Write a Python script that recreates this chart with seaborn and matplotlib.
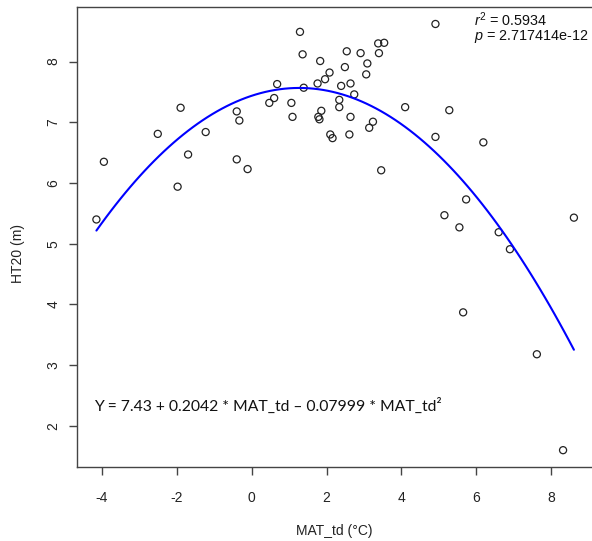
import numpy as np
import matplotlib
matplotlib.use("Agg")
import matplotlib.pyplot as plt
import seaborn as sns

# MAT_td (°C) vs HT20 (m)
mat_td = [-3.95, -4.15, -2.51, -1.90, -1.98, -1.70, -1.23, -0.40, -0.33, -0.40,
          -0.11, 0.47, 0.60, 0.68, 1.29, 1.36, 1.39, 1.06, 1.09, 1.83,
          1.76, 1.96, 2.08, 1.86, 1.78, 1.81, 2.10, 2.16, 2.54, 2.49,
          2.39, 2.64, 2.34, 2.34, 2.74, 2.64, 2.61, 2.91, 3.09, 3.06,
          3.38, 3.54, 3.40, 3.24, 3.14, 4.10, 3.46, 4.91, 5.28, 4.91,
          6.19, 5.73, 5.15, 5.55, 6.60, 6.90, 8.61, 5.65, 7.62, 8.32]
ht20 = [6.35, 5.40, 6.81, 7.24, 5.94, 6.47, 6.84, 7.18, 7.03, 6.39,
        6.23, 7.32, 7.40, 7.63, 8.49, 8.12, 7.57, 7.32, 7.09, 8.01,
        7.64, 7.71, 7.82, 7.19, 7.09, 7.05, 6.80, 6.74, 8.17, 7.91,
        7.60, 7.64, 7.37, 7.25, 7.46, 7.09, 6.80, 8.14, 7.97, 7.79,
        8.30, 8.31, 8.14, 7.01, 6.91, 7.25, 6.21, 8.62, 7.20, 6.76,
        6.67, 5.73, 5.47, 5.27, 5.19, 4.91, 5.43, 3.87, 3.18, 1.60]

x_ticks = [-4, -2, 0, 2, 4, 6, 8]
y_ticks = [2, 3, 4, 5, 6, 7, 8]
equacao = "Y = 7.43 + 0.2042 * MAT_td \u2013 0.07999 * MAT_td\u00b2"
r2_txt = r"$r^2$ = 0.5934"
p_txt = r"$p$ = 2.717414e-12"

sns.set_theme(style="white")
plt.rcParams["font.family"] = ["Liberation Sans", "DejaVu Sans"]
plt.rcParams["mathtext.fontset"] = "custom"
plt.rcParams["mathtext.rm"] = "Liberation Sans"
plt.rcParams["mathtext.it"] = "Liberation Sans:italic"

fig = plt.figure(figsize=(5.92, 5.41), dpi=100)
ax = fig.add_axes([0.1301, 0.1368, 0.870, 0.8503])

# pontos (círculos abertos, estilo R)
sns.scatterplot(x=mat_td, y=ht20, ax=ax, marker="o", s=26,
                facecolor="none", edgecolor="#222222", linewidth=0.9)

# ajuste quadrático
sns.regplot(x=mat_td, y=ht20, order=2, ci=None, scatter=False, ax=ax,
            truncate=True, line_kws=dict(color="#0000ff", lw=1.5))

ax.set_xlim(-4.668, 9.095)
ax.set_ylim(1.323, 8.90)
ax.set_xticks(x_ticks)
ax.set_yticks(y_ticks)
ax.set_xticklabels([str(t) for t in x_ticks])
ax.set_yticklabels([str(t) for t in y_ticks])
plt.setp(ax.get_yticklabels(), rotation=90, va="center")

for s in ["left", "bottom", "top"]:
    ax.spines[s].set_color("#444444")
    ax.spines[s].set_linewidth(1.0)
ax.spines["right"].set_visible(False)

ax.tick_params(axis="both", direction="out", length=6, width=1,
               color="#444444", labelcolor="#222222", labelsize=10,
               bottom=True, left=True)
ax.tick_params(axis="x", pad=11)
ax.tick_params(axis="y", pad=6)

ax.set_xlabel("MAT_td (°C)", fontsize=10, color="#222222")
ax.set_ylabel("HT20 (m)", fontsize=10, color="#222222")
ax.xaxis.set_label_coords(0.5, -0.124)
ax.yaxis.set_label_coords(-0.101, 0.465)

ax.text(0.033, 0.1326, equacao, transform=ax.transAxes, fontsize=11.3,
        family=["Lato", "DejaVu Sans"], va="center", ha="left", color="#111111")
# r² e p num só bloco de texto
ax.text(0.771, 0.955, r2_txt + "\n" + p_txt, transform=ax.transAxes,
        fontsize=10.4, linespacing=0.88, va="center", ha="left", color="#111111")

fig.savefig("out.png", dpi=100, facecolor="white")
